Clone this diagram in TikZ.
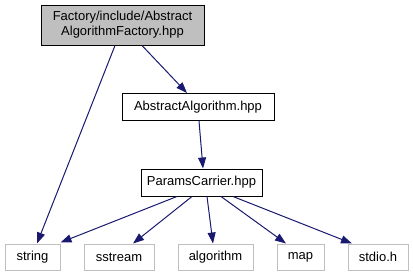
\documentclass[tikz,border=0pt]{standalone}
\usepackage{fontspec}
\setmainfont{Liberation Sans}
\usetikzlibrary{arrows.meta}
\definecolor{edgeblue}{HTML}{191970}
\definecolor{extgray}{HTML}{BFBFBF}
\tikzset{
  filebox/.style={draw=black, line width=1pt, inner sep=0pt, align=center,
    font=\fontsize{13}{15}\selectfont},
  rootbox/.style={filebox, fill=extgray},
  extbox/.style={draw=extgray, line width=1pt, inner sep=0pt,
    font=\fontsize{13}{15}\selectfont},
  dep/.style={draw=edgeblue, line width=1pt,
    -{Triangle[length=11pt,width=8pt,fill=edgeblue]}},
}
\begin{document}
\begin{tikzpicture}[x=1pt, y=-1pt]
\useasboundingbox (0,0) rectangle (413,276);

% headers of the project
\node[rootbox, minimum width=163pt, minimum height=40pt] (root) at (122.5,25)
  {Factory/include/Abstract\\AlgorithmFactory.hpp};
\node[filebox, minimum width=152pt, minimum height=27pt] (abs) at (198,107)
  {AbstractAlgorithm.hpp};
\node[filebox, minimum width=121pt, minimum height=27pt] (pc) at (201.5,182.5)
  {ParamsCarrier.hpp};

% standard library headers
\node[extbox, minimum width=55pt, minimum height=26pt] (string) at (32.5,257) {string};
\node[extbox, minimum width=70pt, minimum height=26pt] (sstream) at (119,257) {sstream};
\node[extbox, minimum width=75pt, minimum height=26pt] (algorithm) at (215.5,257) {algorithm};
\node[extbox, minimum width=47pt, minimum height=26pt] (map) at (300.5,257) {map};
\node[extbox, minimum width=60pt, minimum height=26pt] (stdio) at (378,257) {stdio.h};

% include edges
\draw[dep] ([xshift=-7.5pt]root.south) -- ([xshift=4.5pt]string.north);
\draw[dep] ([xshift=19.5pt]root.south) -- ([xshift=-11pt]abs.north);
\draw[dep] ([xshift=1pt]abs.south) -- ([xshift=1.5pt]pc.north);
\draw[dep] ([xshift=-24.5pt]pc.south) -- ([yshift=1pt]string.north east);
\draw[dep] ([xshift=-9.5pt]pc.south) -- ([xshift=14pt]sstream.north);
\draw[dep] ([xshift=5.5pt]pc.south) -- ([xshift=-2.5pt]algorithm.north);
\draw[dep] ([xshift=19.5pt]pc.south) -- ([xshift=-14.5pt]map.north);
\draw[dep] ([xshift=31.5pt]pc.south) -- ([xshift=-26pt]stdio.north);
\end{tikzpicture}
\end{document}
